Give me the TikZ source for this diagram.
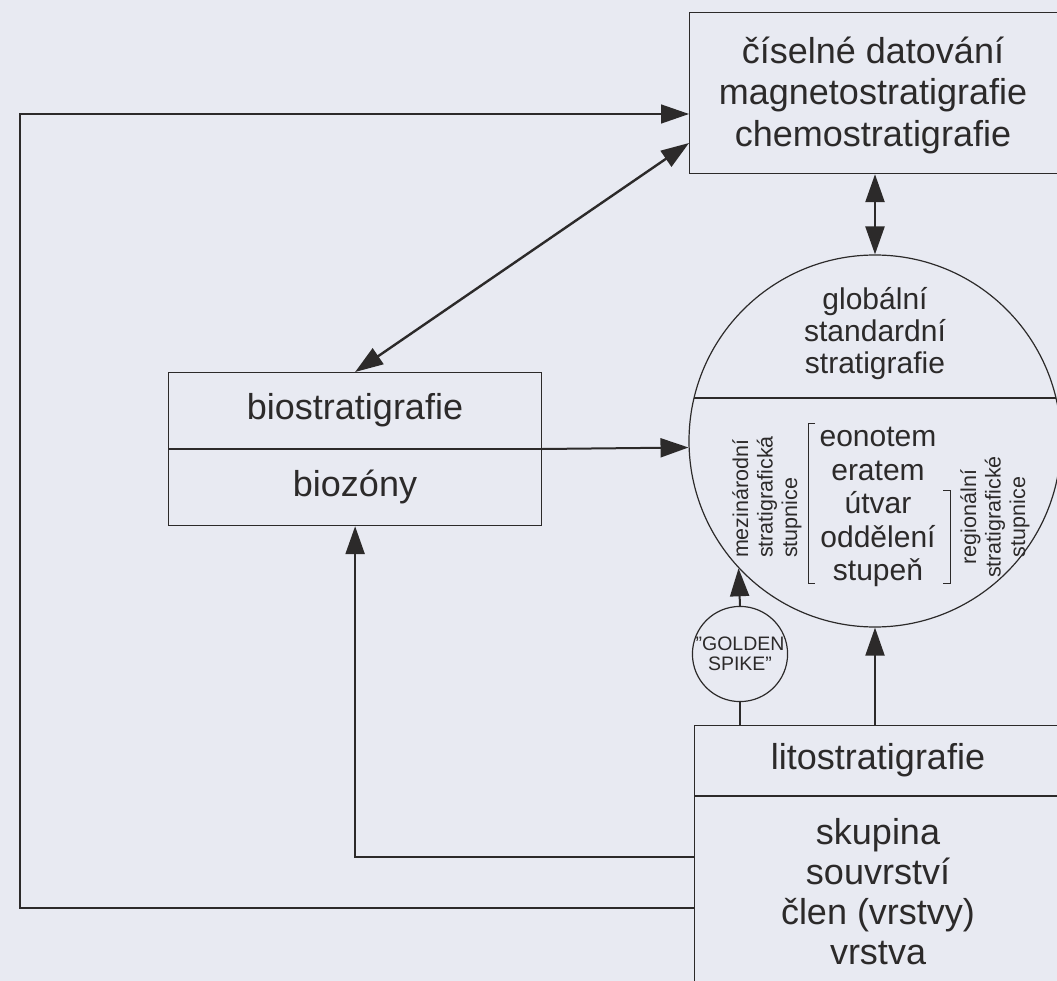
\documentclass[tikz,border=0pt]{standalone}
\usepackage{fontspec}
\setmainfont{Liberation Sans}
\usepackage{tikz}
\usetikzlibrary{calc,arrows.meta}
\definecolor{paper}{RGB}{232,234,242}
\definecolor{ink}{RGB}{44,42,42}

\begin{document}
\begin{tikzpicture}[x=1pt,y=-1pt,
  box/.style={draw=ink,line width=1.2pt,rectangle,inner sep=0pt},
  bigtxt/.style={text=ink,font=\fontsize{36}{41.5}\selectfont,align=center,inner sep=0pt},
  midtxt/.style={text=ink,font=\fontsize{30}{32}\selectfont,align=center,inner sep=0pt},
  sidetxt/.style={text=ink,font=\fontsize{21.5}{24.5}\selectfont,rotate=90,inner sep=0pt},
  ln/.style={draw=ink,line width=1.3pt},
  arr/.style={draw=ink,line width=2pt,-{Triangle[length=28pt,width=19pt]}},
  darr/.style={draw=ink,line width=2.4pt,{Triangle[length=28pt,width=19pt]}-{Triangle[length=28pt,width=19pt]}}]

  \useasboundingbox (0,0) rectangle (1057,981);
  \fill[paper] (0,0) rectangle (1057,981);
  \clip (0,0) rectangle (1057,981);

  \node(chrono)[box,minimum width=420pt,minimum height=161pt,anchor=north west] at (689,12) {};
  \node(chronotxt)[bigtxt] at (873,95) {číselné datování\\magnetostratigrafie\\chemostratigrafie};

  \node(bio)[box,minimum width=373pt,minimum height=153pt,anchor=north west] at (168,372) {};
  \node(biotop)[bigtxt] at (355,410) {biostratigrafie};
  \node(biobot)[bigtxt] at (355,487) {biozóny};
  \draw[ln] ($(bio.north west)+(0,77)$) -- ($(bio.north east)+(0,77)$);

  \node(gss)[draw=ink,line width=1.2pt,circle,minimum size=372pt,inner sep=0pt] at (875,441) {};
  \draw[ln] ($(gss.center)+(-181,-43)$) -- ($(gss.center)+(181,-43)$);
  \node(gsstxt)[midtxt] at (875,334) {globální\\standardní\\stratigrafie};
  \node(units)[midtxt,font=\fontsize{30}{33.5}\selectfont] at (878,507) {eonotem\\eratem\\útvar\\oddělení\\stupeň};
  \node(intl)[sidetxt,align=left] at (767,497) {mezinárodní\\stratigrafická\\stupnice};
  \node(regl)[sidetxt,align=center] at (995,517) {regionální\\stratigrafické\\stupnice};
  \draw[ln,line width=1pt] (815,423) -- (808,423) -- (808,583) -- (815,583);
  \draw[ln,line width=1pt] (943,490) -- (950,490) -- (950,583) -- (943,583);

  \node(spike)[draw=ink,line width=1.2pt,circle,minimum size=94pt,inner sep=0pt,align=center,text=ink,font=\fontsize{19.5}{20.5}\selectfont] at (740,654) {"GOLDEN\\SPIKE"};

  \node(lito)[box,minimum width=420pt,minimum height=300pt,anchor=north west] at (694,725) {};
  \node(litotop)[bigtxt] at (878,760) {litostratigrafie};
  \node(litobot)[bigtxt,font=\fontsize{36}{40}\selectfont] at (878,892) {skupina\\souvrství\\člen (vrstvy)\\vrstva};
  \draw[ln] ($(lito.north west)+(0,71)$) -- ($(lito.north east)+(0,71)$);

  \coordinate(frame) at (20,114);

  \draw[darr] (gss.north |- chrono.south) -- (gss.north);
  \draw[darr] (bio.north) -- ($(chrono.north west)+(0,131)$);
  \draw[arr] ($(bio.north east)+(0,77)$) -- (gss.182.5);
  \draw[arr] (spike.north) -- (gss.223.5);
  \draw[ln] (spike.south) -- (spike.south |- lito.north);
  \draw[arr] (gss.south |- lito.north) -- (gss.south);
  \draw[arr,line width=2.4pt] ($(lito.north west)+(0,132)$) -| (bio.south);
  \draw[arr,line width=1.4pt] ($(lito.north west)+(0,183)$) -| (frame) -- (frame -| chrono.west);

\end{tikzpicture}
\end{document}
